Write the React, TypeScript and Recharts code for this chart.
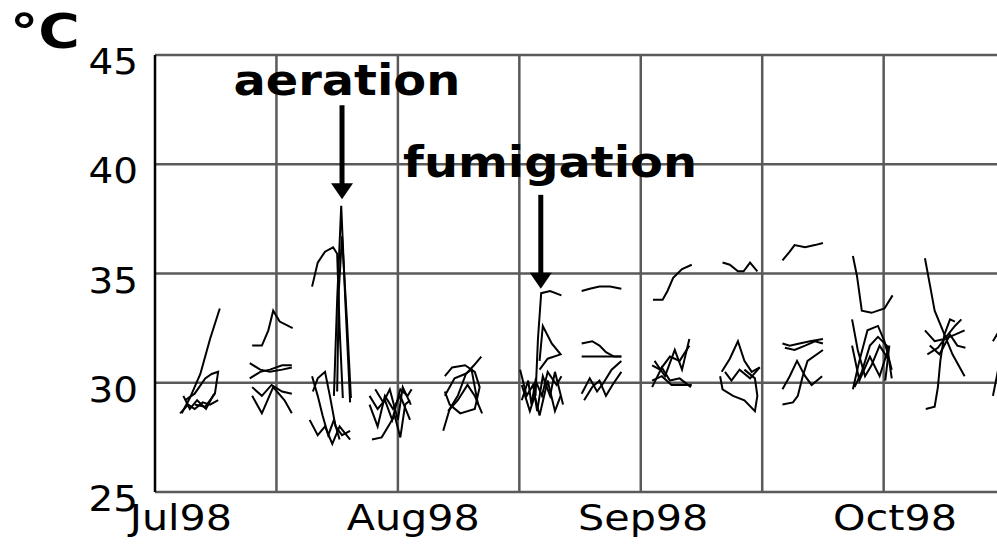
import React from 'react';
import { LineChart, Line, XAxis, YAxis, CartesianGrid, ReferenceLine, ReferenceDot } from 'recharts';

type Pt = [number, number];

// x = days since the start of the record, y = grain temperature in °C
const week1: Pt[][] = [
  [[3.3, 28.6], [4.3, 29.3], [5.6, 30.4], [6.8, 32.0], [8.0, 33.4]],
  [[3.7, 29.2], [4.9, 29.5], [6.2, 30.2], [7.0, 30.4], [7.8, 30.5], [7.4, 29.5], [6.2, 28.9], [4.9, 29.0]],
  [[3.1, 28.6], [4.1, 29.0], [4.9, 28.8], [5.9, 29.1], [6.8, 29.0], [7.8, 29.2]],
  [[3.5, 29.4], [4.3, 28.8], [5.2, 29.2], [6.3, 28.8], [7.3, 29.5]],
];
const week2: Pt[][] = [
  [[12.0, 31.7], [13.2, 31.7], [14.0, 32.4], [14.6, 33.3], [15.4, 32.8], [17.0, 32.5]],
  [[11.7, 30.9], [13.0, 30.6], [14.2, 30.5], [15.7, 30.6], [16.9, 30.7]],
  [[11.7, 30.2], [13.0, 30.5], [14.2, 30.6], [15.7, 30.8], [16.9, 30.8]],
  [[12.0, 29.4], [13.2, 28.6], [14.6, 29.8], [16.0, 29.2], [16.9, 28.6]],
  [[12.0, 29.8], [13.2, 29.4], [14.4, 29.9], [15.7, 29.6], [16.9, 29.5]],
];
const week3: Pt[][] = [
  [[19.4, 34.4], [20.1, 35.5], [21.0, 36.0], [22.0, 36.2], [22.5, 35.9], [22.8, 32.5], [23.2, 29.3]],
  [[22.1, 29.4], [22.5, 33.8], [23.0, 38.1], [23.5, 33.8], [24.1, 29.1]],
  [[22.5, 29.6], [22.7, 34.2], [23.1, 36.7], [23.7, 32.9], [24.2, 29.3]],
  [[19.4, 30.3], [20.1, 29.4], [20.7, 28.5], [21.4, 27.6], [22.1, 28.3], [22.8, 27.4]],
  [[19.5, 29.6], [20.1, 30.2], [21.0, 30.5], [21.6, 29.4], [22.3, 28.0], [23.1, 27.6], [24.1, 27.8]],
  [[19.1, 28.3], [20.1, 27.6], [21.0, 28.0], [21.9, 27.2], [22.8, 28.0], [24.1, 27.4]],
];
const week4: Pt[][] = [
  [[26.5, 29.4], [27.5, 28.8], [28.4, 29.2], [29.3, 28.3], [30.3, 29.7], [31.2, 29.4], [31.7, 29.7]],
  [[26.8, 27.4], [28.0, 27.5], [28.8, 28.0], [29.6, 28.5], [30.3, 27.5], [30.9, 29.0], [31.5, 29.2]],
  [[26.5, 29.0], [27.5, 28.0], [28.4, 29.4], [29.4, 28.8], [30.3, 29.4], [31.5, 28.3]],
  [[27.2, 29.7], [28.2, 29.1], [29.0, 29.7], [30.0, 28.3], [30.6, 29.8], [31.6, 29.0]],
];
const week5: Pt[][] = [
  [[35.6, 27.8], [36.4, 28.8], [37.4, 29.4], [38.4, 30.4], [39.4, 30.8], [40.3, 31.2]],
  [[35.8, 30.3], [36.7, 30.7], [38.3, 30.8], [39.5, 30.5], [40.1, 29.8], [39.5, 28.8], [37.7, 28.6], [36.4, 29.0], [35.8, 29.6]],
  [[35.8, 29.4], [37.0, 30.2], [38.3, 30.4], [39.1, 30.6], [39.9, 29.0]],
  [[36.2, 28.7], [37.4, 29.2], [38.6, 29.9], [39.5, 29.4], [40.4, 28.6]],
];
const week6: Pt[][] = [
  [[47.0, 29.4], [47.3, 32.0], [47.7, 34.1], [48.8, 34.2], [50.2, 34.0]],
  [[47.5, 31.0], [47.9, 32.6], [49.0, 31.8], [50.1, 31.3], [48.5, 31.1], [47.5, 30.6]],
  [[45.1, 30.6], [45.9, 29.4], [46.7, 29.9], [47.2, 28.7], [47.9, 30.3], [48.8, 29.4], [49.4, 30.5], [50.4, 29.0]],
  [[45.3, 29.2], [46.1, 30.1], [46.5, 29.0], [47.0, 30.1], [47.8, 29.4], [48.5, 30.5], [49.6, 29.9], [50.2, 30.3]],
  [[45.3, 29.9], [46.3, 28.7], [46.9, 29.4], [47.5, 28.5], [48.5, 30.1], [49.4, 28.7], [50.1, 29.4]],
];
const week7: Pt[][] = [
  [[52.7, 34.2], [53.7, 34.3], [54.9, 34.4], [56.2, 34.4], [57.6, 34.3]],
  [[52.7, 31.8], [54.0, 31.9], [54.9, 31.7], [55.7, 31.4], [56.7, 31.2], [57.6, 31.2]],
  [[52.7, 31.2], [54.3, 31.2], [56.2, 31.2], [57.6, 31.2]],
  [[52.7, 29.5], [53.7, 30.2], [54.6, 29.6], [55.4, 30.0], [56.4, 30.6], [57.6, 31.0]],
  [[53.0, 29.2], [54.0, 29.8], [54.9, 30.1], [55.7, 29.4], [56.5, 29.9], [57.6, 30.5]],
];
const week8: Pt[][] = [
  [[61.5, 33.8], [62.7, 33.8], [63.3, 34.2], [64.0, 34.8], [65.1, 35.2], [66.3, 35.4]],
  [[61.4, 30.8], [62.4, 30.6], [63.6, 31.2], [64.8, 31.0], [66.0, 31.7]],
  [[61.4, 30.1], [62.6, 30.3], [63.8, 29.9], [65.4, 29.9], [66.3, 29.9]],
  [[61.7, 31.0], [63.0, 30.3], [64.2, 31.5], [65.1, 30.6], [66.0, 32.0]],
  [[61.4, 29.8], [62.6, 30.7], [63.6, 30.1], [64.8, 30.2], [66.2, 29.8]],
];
const week9: Pt[][] = [
  [[70.1, 35.5], [71.0, 35.4], [72.0, 35.1], [72.7, 35.1], [73.5, 35.5], [74.4, 35.1]],
  [[70.0, 30.5], [71.0, 31.1], [72.0, 31.9], [72.8, 31.0], [73.7, 30.5], [74.7, 30.7]],
  [[69.8, 30.3], [70.1, 29.7], [71.4, 29.4], [72.8, 29.2], [74.1, 28.7], [74.4, 29.4], [74.1, 30.2], [72.8, 30.6]],
  [[70.4, 30.5], [71.2, 30.1], [72.2, 30.6], [73.5, 30.2], [74.7, 30.7]],
];
const week10: Pt[][] = [
  [[77.5, 35.6], [78.4, 36.0], [79.0, 36.3], [80.3, 36.2], [81.5, 36.3], [82.5, 36.4]],
  [[77.5, 31.8], [78.4, 31.7], [79.6, 31.8], [80.9, 31.9], [82.5, 32.0]],
  [[77.8, 31.6], [79.0, 31.5], [80.3, 31.7], [81.5, 31.9], [82.5, 31.8]],
  [[77.5, 29.7], [78.4, 30.3], [79.3, 31.0], [80.3, 30.3], [81.1, 29.9], [82.4, 30.3]],
  [[77.5, 29.0], [78.8, 29.1], [79.4, 29.4], [80.0, 30.3], [80.6, 31.0], [82.5, 31.5]],
];
const week11: Pt[][] = [
  [[86.2, 35.8], [86.7, 34.9], [87.3, 33.3], [88.5, 33.2], [90.1, 33.4], [91.1, 34.0]],
  [[86.1, 32.9], [86.8, 31.5], [87.7, 30.3], [88.5, 30.8], [89.5, 31.7], [90.7, 31.0]],
  [[86.2, 29.7], [87.0, 31.0], [88.0, 32.4], [89.3, 32.6], [90.1, 31.9], [91.0, 30.6]],
  [[86.1, 31.7], [87.0, 30.1], [88.3, 31.2], [89.5, 30.3], [90.7, 31.7], [90.2, 30.1]],
  [[86.4, 29.8], [87.3, 30.5], [88.3, 31.7], [89.3, 32.1], [90.4, 31.7], [91.0, 30.2]],
];
const week12: Pt[][] = [
  [[95.1, 35.7], [95.7, 34.5], [96.3, 33.3], [97.3, 32.4], [98.5, 31.3], [100.0, 30.3]],
  [[95.2, 28.8], [96.3, 28.9], [96.7, 29.8], [97.0, 31.0], [97.5, 32.2], [98.2, 32.9], [98.8, 32.8]],
  [[95.1, 32.4], [96.3, 31.9], [97.5, 32.0], [98.8, 32.2], [100.0, 32.4]],
  [[95.4, 31.3], [96.7, 31.6], [97.5, 32.0], [98.8, 32.6], [99.6, 32.9]],
  [[95.7, 31.7], [96.9, 31.3], [98.2, 32.2], [99.1, 31.7], [100.1, 31.6]],
];
const week13: Pt[][] = [
  [[103.5, 31.9], [104.3, 32.4]],
  [[103.5, 29.4], [104.3, 30.9]],
];

const yTicks = [25, 30, 35, 40, 45];
const gridDays = [15, 30, 45, 60, 75, 90];
const monthLabels = ['Jul98', 'Aug98', 'Sep98', 'Oct98'];
const monthDays = [3.2, 31.9, 60.3, 91.4];

const eventLabels = ['aeration', 'fumigation'];
const eventDays = [23.1, 47.65];
const eventTops = [42.7, 38.6];
const eventTips = [38.4, 34.3];
const eventTextDays = [23.7, 48.8];
const eventTextTemps = [43.15, 39.4];

const allSeries = [week1, week2, week3, week4, week5, week6, week7, week8, week9, week10, week11, week12, week13]
  .flat()
  .map((s) => s.map(([x, t]) => ({ x, t })));

const FONT = '"DejaVu Sans", sans-serif';
const GRID = '#5a5a5a';

const TempTick = (props: any) => {
  const { x, y, payload } = props;
  return (
    <g transform={`translate(${x},${y + 19}) scale(1.08,1)`}>
      <text textAnchor="end" fontFamily={FONT} fontSize={36} fill="#000">
        {payload.value}
      </text>
    </g>
  );
};

const MonthTick = (props: any) => {
  const { x, y, payload } = props;
  const i = monthDays.indexOf(payload.value);
  return (
    <g transform={`translate(${x},${y + 38}) scale(1.18,1)`}>
      <text textAnchor="middle" fontFamily={FONT} fontSize={35} fill="#000">
        {monthLabels[i]}
      </text>
    </g>
  );
};

const Arrow = (props: any) => {
  const { x1, y1, x2, y2 } = props;
  const head = 16;
  return (
    <g>
      <line x1={x1} y1={y1} x2={x2} y2={y2 - head + 2} stroke="#000" strokeWidth={5} />
      <polygon points={`${x2 - 11},${y2 - head} ${x2 + 11},${y2 - head} ${x2},${y2}`} fill="#000" />
    </g>
  );
};

const makeEventText = (label: string) => (props: any) => (
  <g transform={`translate(${props.cx},${props.cy}) scale(1.14,1)`}>
    <text textAnchor="middle" fontFamily={FONT} fontWeight="bold" fontSize={42} fill="#000">
      {label}
    </text>
  </g>
);

const UnitLabel = (props: any) => {
  const vb = props.viewBox || { x: 0, y: 55 };
  return (
    <g transform={`translate(${vb.x + 10},${vb.y - 7}) scale(1.18,1)`}>
      <text fontFamily={FONT} fontWeight="bold" fontSize={48} fill="#000">
        °C
      </text>
    </g>
  );
};

export default function App() {
  return (
    <div style={{ position: 'absolute', left: 0, top: 0, width: 997, height: 544, background: '#fff' }}>
      <LineChart width={997} height={544} margin={{ top: 55, right: 0, bottom: 12, left: 0 }}>
        <CartesianGrid stroke={GRID} strokeWidth={2.5} vertical={false} />
        <XAxis
          type="number"
          dataKey="x"
          domain={[0, 104]}
          ticks={gridDays}
          interval={0}
          allowDataOverflow
          tick={false}
          tickLine={false}
          height={0}
          axisLine={{ stroke: GRID, strokeWidth: 2.5 }}
        />
        <XAxis
          xAxisId="lbl"
          type="number"
          dataKey="x"
          domain={[0, 104]}
          ticks={monthDays}
          interval={0}
          allowDataOverflow
          axisLine={false}
          tickLine={false}
          tickSize={0}
          tickMargin={0}
          height={40}
          tick={<MonthTick />}
        />
        <YAxis
          type="number"
          domain={[25, 45]}
          ticks={yTicks}
          interval={0}
          width={155}
          tickLine={false}
          tickSize={0}
          tickMargin={17}
          axisLine={{ stroke: '#000', strokeWidth: 2.5 }}
          tick={<TempTick />}
          label={{ content: <UnitLabel /> }}
        />
        {gridDays.map((d) => (
          <ReferenceLine key={`g${d}`} x={d} stroke={GRID} strokeWidth={2.5} />
        ))}
        {allSeries.map((data, i) => (
          <Line
            key={i}
            data={data}
            dataKey="t"
            type="linear"
            stroke="#000"
            strokeWidth={2}
            dot={false}
            activeDot={false}
            isAnimationActive={false}
          />
        ))}
        {eventLabels.map((label, i) => (
          <ReferenceLine
            key={`a${i}`}
            segment={[
              { x: eventDays[i], y: eventTops[i] },
              { x: eventDays[i], y: eventTips[i] },
            ]}
            shape={<Arrow />}
          />
        ))}
        {eventLabels.map((label, i) => (
          <ReferenceDot
            key={`t${i}`}
            x={eventTextDays[i]}
            y={eventTextTemps[i]}
            r={0}
            shape={makeEventText(label)}
          />
        ))}
      </LineChart>
    </div>
  );
}
